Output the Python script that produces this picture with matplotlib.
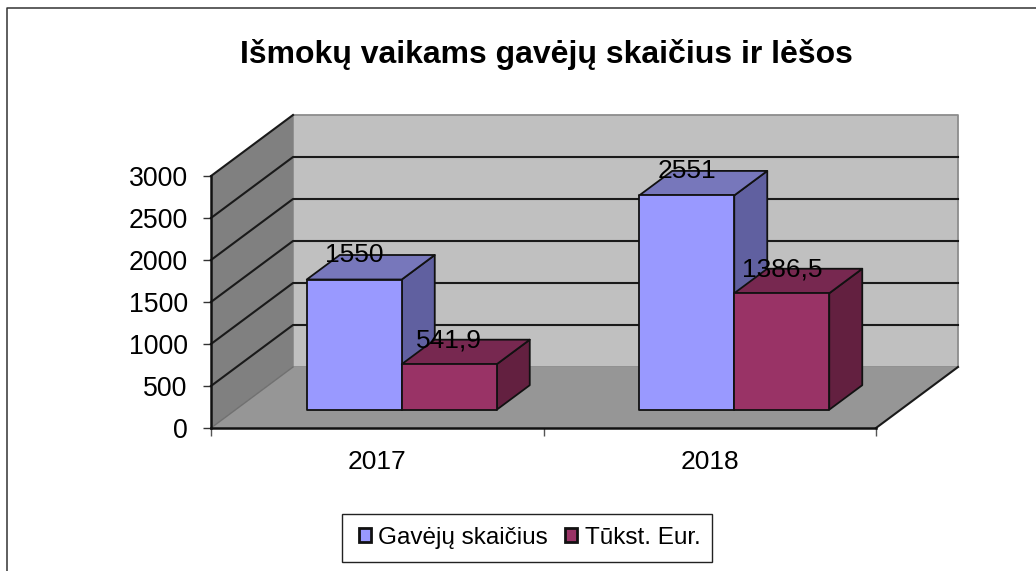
import numpy as np
import matplotlib
matplotlib.use("Agg")
import matplotlib.pyplot as plt
from matplotlib.lines import Line2D
from matplotlib.patches import Patch, Polygon, Rectangle
from matplotlib.transforms import offset_copy

plt.rcParams["font.family"] = ["Liberation Sans", "DejaVu Sans"]

years = ["2017", "2018"]
recipients = [1550, 2551]
thousand_eur = [541.9, 1386.5]
recipient_labels = ["1550", "2551"]
eur_labels = ["541,9", "1386,5"]
y_ticks = [0, 500, 1000, 1500, 2000, 2500, 3000]

W, H = 1036, 571
fig = plt.figure(figsize=(W / 100, H / 100), dpi=100, facecolor="white")
ax = fig.add_axes([211 / W, (H - 428) / H, 665 / W, 252 / H])
ax.set_xlim(0, 2)
ax.set_ylim(0, 3000)

# depth of the fake 3d box, in data units
px_x = 2 / 665
px_y = 3000 / 252
DX = 82 * px_x
DY = 61 * px_y
BAR_DX = 33 * px_x
BAR_DY = 24.5 * px_y
FRONT_DX = 24.5 * px_x
FRONT_DY = 18.3 * px_y
BAR_W = 95 * px_x


def poly(points, color, edge="none", lw=0, z=1):
    ax.add_patch(Polygon(points, closed=True, facecolor=color, edgecolor=edge,
                         linewidth=lw, zorder=z, clip_on=False, joinstyle="round"))


def box(x, value, front, top, side, z):
    x0 = x + FRONT_DX
    x1 = x0 + BAR_W
    y0 = FRONT_DY
    y1 = FRONT_DY + value
    poly([(x1, y0), (x1 + BAR_DX, y0 + BAR_DY), (x1 + BAR_DX, y1 + BAR_DY), (x1, y1)],
         side, "#111111", 1.3, z)
    poly([(x0, y1), (x1, y1), (x1 + BAR_DX, y1 + BAR_DY), (x0 + BAR_DX, y1 + BAR_DY)],
         top, "#111111", 1.3, z)
    poly([(x0, y0), (x1, y0), (x1, y1), (x0, y1)], front, "#111111", 1.3, z)


# walls and floor
poly([(DX, DY), (2 + DX, DY), (2 + DX, 3000 + DY), (DX, 3000 + DY)], "#c0c0c0", "#8c8c8c", 1.3, 1)
poly([(0, 0), (DX, DY), (DX, 3000 + DY), (0, 3000)], "#808080", z=1)
poly([(0, 0), (2, 0), (2 + DX, DY), (DX, DY)], "#969696", z=1)

for v in y_ticks[1:6]:
    ax.plot([0, DX, 2 + DX], [v, v + DY, v + DY], color="#1a1a1a", lw=1.5, zorder=2, clip_on=False)
ax.plot([0, DX], [3000, 3000 + DY], color="#1a1a1a", lw=1.5, zorder=2, clip_on=False)
ax.plot([0, DX], [0, DY], color="#707070", lw=1, zorder=2, clip_on=False)
ax.plot([2, 2 + DX], [0, DY], color="#1a1a1a", lw=1.5, zorder=2, clip_on=False)

# bars, second series goes on top
for i, (a, b) in enumerate(zip(recipients, thousand_eur)):
    start = i + (1 - 2 * BAR_W) / 2
    box(start, a, "#9999ff", "#7777bb", "#6060a0", 3 + i)
    box(start + BAR_W, b, "#993366", "#772850", "#632040", 3 + i)

    for x, v, s in [(start, a, recipient_labels[i]), (start + BAR_W, b, eur_labels[i])]:
        tr = offset_copy(ax.transData, fig=fig, x=0, y=24, units="dots")
        ax.text(x + FRONT_DX + BAR_W / 2, v + FRONT_DY, s, transform=tr, ha="center", va="center",
                fontsize=19, color="black", zorder=10, clip_on=False)

for side in ["top", "right"]:
    ax.spines[side].set_visible(False)
for side in ["left", "bottom"]:
    ax.spines[side].set_linewidth(1.8)
    ax.spines[side].set_color("#111111")
    ax.spines[side].set_zorder(6)
ax.patch.set_visible(False)

ax.set_yticks(y_ticks)
ax.tick_params(axis="y", labelsize=19.2, length=5.8, width=1, pad=11, color="#333333")
ax.set_xticks([0, 1, 2])
ax.set_xticklabels([])
ax.set_xticks([0.5, 1.5], minor=True)
ax.set_xticklabels(years, minor=True)
ax.tick_params(axis="x", which="major", length=6, width=1, color="#555555")
ax.tick_params(axis="x", which="minor", length=0, labelsize=19, pad=15.5)

fig.text(546 / W, 1 - 55 / H, "Išmokų vaikams gavėjų skaičius ir lėšos", ha="center", va="center",
         fontsize=23, fontweight="bold", color="black")

# frame of the chart area, only top and left show in the crop
fig.add_artist(Line2D([7 / W, 7 / W, 1], [0, 1 - 8 / H, 1 - 8 / H], color="#333333", lw=1.1))

# legend frame is drawn apart so the box size can match
fig.add_artist(Rectangle((342 / W, 1 - 562 / H), 370 / W, 48 / H, transform=fig.transFigure,
                         facecolor="white", edgecolor="#222222", linewidth=1))
handles = [Patch(facecolor="#9999ff", edgecolor="#111111", linewidth=2),
           Patch(facecolor="#993366", edgecolor="#111111", linewidth=2)]
leg = fig.legend(handles, ["Gavėjų skaičius", "Tūkst. Eur."], ncol=2, loc="center left",
                 bbox_to_anchor=(359 / W, 1 - 538 / H), fontsize=17.5, frameon=False,
                 handlelength=0.5, handleheight=0.5, handletextpad=0.3, columnspacing=0.7,
                 borderpad=0, borderaxespad=0)

fig.savefig("out.png", dpi=100)
